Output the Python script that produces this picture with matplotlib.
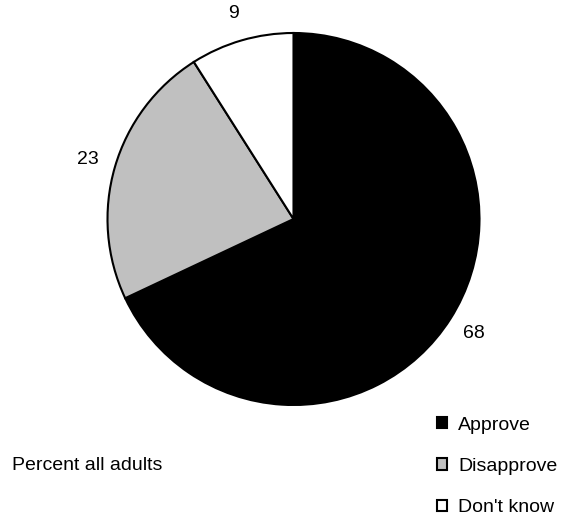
import matplotlib
matplotlib.use("Agg")
import matplotlib.pyplot as plt

labels = ["Approve", "Disapprove", "Don't know"]
values = [68, 23, 9]
colors = ["#000000", "#c0c0c0", "#ffffff"]

plt.rcParams["font.family"] = ["Liberation Sans", "DejaVu Sans"]
plt.rcParams["font.size"] = 14


def main():
    fig = plt.figure(figsize=(5.63, 5.18), dpi=100)
    ax = fig.add_axes([107.5 / 563, 113 / 518, 372 / 563, 372 / 518])

    wedges, texts = ax.pie(
        values,
        labels=[str(v) for v in values],
        colors=colors,
        startangle=90,
        counterclock=False,
        labeldistance=1.15,
        wedgeprops={"edgecolor": "black", "linewidth": 1.5},
    )
    for t in texts:
        t.set_ha("center")
        t.set_va("center")
        t.set_fontsize(14)
    ax.set_xlim(-1, 1)
    ax.set_ylim(-1, 1)
    ax.set_aspect("equal")

    fig.legend(
        wedges,
        labels,
        loc="upper left",
        bbox_to_anchor=(419 / 563, 1 - 399 / 518),
        frameon=False,
        handlelength=0.52,
        handleheight=0.52,
        handletextpad=0.6,
        labelspacing=1.25,
        fontsize=14,
    )

    fig.text(12 / 563, 1 - 466 / 518, "Percent all adults", fontsize=14,
             ha="left", va="center")

    fig.savefig("out.png", dpi=100)
    plt.close(fig)


if __name__ == "__main__":
    main()
